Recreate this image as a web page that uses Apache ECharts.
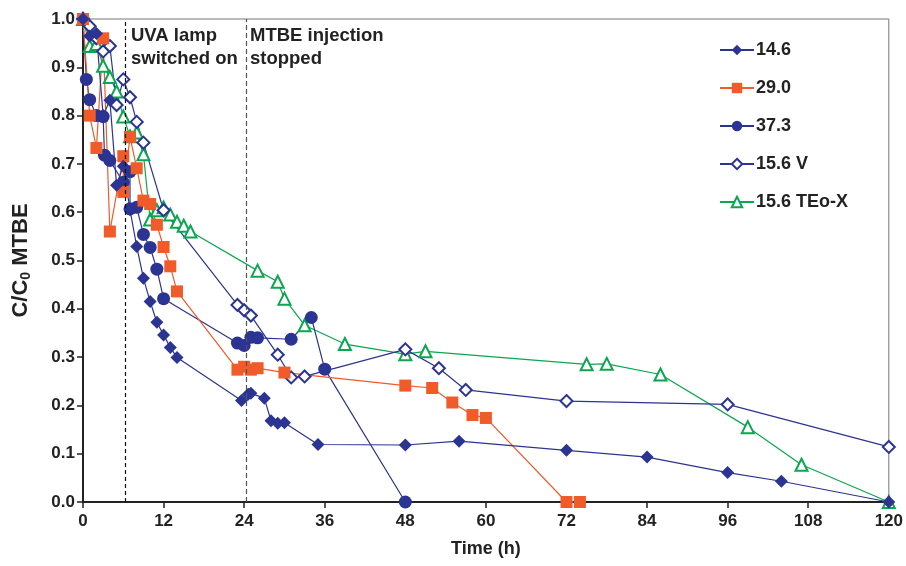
<!DOCTYPE html>
<html><head><meta charset="utf-8">
<script src="https://cdn.jsdelivr.net/npm/echarts@6/dist/echarts.min.js"></script>
<style>html,body{margin:0;padding:0;background:#fff}#c{width:906px;height:566px}</style>
</head><body><div id="c"></div>
<script>
const xTicks = [0,12,24,36,48,60,72,84,96,108,120];
const seriesNames = ['14.6','29.0','37.3','15.6 V','15.6 TEo-X'];
const s146 = [[0,1.0],[1,0.965],[2,0.97],[3,0.80],[4,0.832],[5,0.656],[6,0.695],[7,0.605],[8,0.529],[9,0.463],[10,0.415],[11,0.372],[12,0.346],[13,0.32],[14,0.299],[23.6,0.21],[24.6,0.223],[25,0.225],[27,0.215],[28,0.168],[29,0.163],[30,0.164],[35,0.119],[48,0.118],[56,0.126],[72,0.107],[84,0.093],[96,0.061],[104,0.043],[120,0.0]];
const s290 = [[0,1.0],[1,0.80],[2,0.733],[3,0.96],[4,0.56],[6,0.716],[6,0.642],[7,0.756],[8,0.691],[9,0.624],[10,0.617],[11,0.574],[12,0.528],[13,0.488],[14,0.436],[23,0.274],[24,0.28],[25,0.274],[26,0.277],[30,0.268],[48,0.241],[52,0.236],[55,0.206],[58,0.18],[60,0.174],[72,0.0],[74,0.0]];
const s373 = [[0,1.0],[0.5,0.875],[1,0.833],[2,0.80],[3,0.798],[3.2,0.718],[4,0.707],[6,0.662],[7,0.684],[7,0.607],[8,0.61],[9,0.554],[10,0.527],[11,0.482],[12,0.421],[23,0.329],[24,0.324],[25,0.341],[26,0.34],[31,0.337],[34,0.382],[36,0.275],[48,0.0]];
const s156V = [[0,1.0],[1,0.985],[2,0.96],[3,0.933],[4,0.944],[5,0.822],[6,0.875],[7,0.838],[8,0.787],[9,0.744],[12,0.604],[23,0.408],[24,0.397],[25,0.386],[29,0.305],[31,0.258],[33,0.26],[48,0.316],[53,0.277],[57,0.232],[72,0.209],[96,0.202],[120,0.114]];
const s156T = [[0,1.0],[1,0.944],[2,0.948],[3,0.903],[4,0.88],[5,0.85],[6,0.798],[7,0.757],[8,0.765],[9,0.72],[10,0.585],[11,0.604],[12,0.61],[13,0.595],[14,0.58],[15,0.572],[16,0.56],[26,0.479],[29,0.456],[30,0.421],[33,0.366],[39,0.327],[48,0.306],[51,0.312],[75,0.285],[78,0.286],[86,0.264],[99,0.155],[107,0.077],[120,0.0]];
const eventTimes = [6.25, 24.3];
const annotations = ['UVA lamp\nswitched on','MTBE injection\nstopped'];

const BLUE = '#2B3492', ORANGE = '#F15A29', GREEN = '#0BA64F';
const FF = '"Liberation Sans", Arial, sans-serif';
const chart = echarts.init(document.getElementById('c'));

function mk(name, data, color, symbol, size, empty, extra) {
  return Object.assign({
    name, type: 'line', data, symbol, symbolSize: size,
    showAllSymbol: true,
    lineStyle: { color, width: 1.2 },
    itemStyle: empty ? { color, borderColor: color, borderWidth: 1.3 } : { color, borderWidth: 0 },
    emphasis: { disabled: true }, animation: false, z: 3
  }, extra || {});
}

const option = {
  animation: false,
  grid: { left: 83, right: 15, top: 19, bottom: 64, show: true, borderColor: '#777', borderWidth: 1 },
  xAxis: {
    type: 'value', min: 0, max: 120, interval: 12,
    name: 'Time (h)', nameLocation: 'middle', nameGap: 38,
    nameTextStyle: { fontFamily: FF, fontWeight: 'bold', fontSize: 18, color: '#222' },
    axisLine: { show: true, onZero: false, lineStyle: { color: '#222', width: 2 } },
    axisTick: { show: true, inside: false, length: 6, lineStyle: { color: '#222', width: 1.5 } },
    axisLabel: { fontFamily: FF, fontWeight: 'bold', fontSize: 17, color: '#222', margin: 11 },
    splitLine: { show: false }
  },
  yAxis: {
    type: 'value', min: 0, max: 1, interval: 0.1,
    name: '{a|C/C}{b|0}{a| MTBE}', nameLocation: 'middle', nameGap: 50, nameRotate: 90,
    nameTextStyle: { rich: {
      a: { fontFamily: FF, fontWeight: 'bold', fontSize: 22, color: '#222' },
      b: { fontFamily: FF, fontWeight: 'bold', fontSize: 14, color: '#222', verticalAlign: 'bottom', padding: [11,0,0,0] }
    } },
    axisLine: { show: true, onZero: false, lineStyle: { color: '#222', width: 2 } },
    axisTick: { show: true, inside: false, length: 6, lineStyle: { color: '#222', width: 1.5 } },
    axisLabel: { fontFamily: FF, fontWeight: 'bold', fontSize: 17, color: '#222', margin: 8,
      formatter: v => v.toFixed(1) },
    splitLine: { show: false }
  },
  legend: {
    orient: 'vertical', left: 714, top: 36, itemGap: 20, itemWidth: 34, itemHeight: 13,
    textStyle: { fontFamily: FF, fontWeight: 'bold', fontSize: 18, color: '#222', padding: [0,0,0,-3] },
    data: seriesNames
  },
  graphic: [
    { type: 'text', left: 131, top: 24, style: { text: annotations[0], font: 'bold 18.5px ' + FF, fill: '#222', lineHeight: 23 } },
    { type: 'text', left: 250, top: 24, style: { text: annotations[1], font: 'bold 18.5px ' + FF, fill: '#222', lineHeight: 23 } }
  ],
  series: [
    mk(seriesNames[4], s156T, GREEN, 'emptyTriangle', 12, true, {
      markLine: {
        silent: true, symbol: 'none', label: { show: false }, animation: false,
        data: [
          { xAxis: eventTimes[0], lineStyle: { color: '#111', type: [4,3], width: 1.2 } },
          { xAxis: eventTimes[1], lineStyle: { color: '#555', type: [5,3], width: 1.2 } }
        ]
      }
    }),
    mk(seriesNames[3], s156V, BLUE, 'emptyDiamond', 12, true),
    mk(seriesNames[2], s373, BLUE, 'circle', 13, false),
    mk(seriesNames[1], s290, ORANGE, 'rect', 12, false),
    mk(seriesNames[0], s146, BLUE, 'diamond', 13, false)
  ]
};
chart.setOption(option);
</script></body></html>
